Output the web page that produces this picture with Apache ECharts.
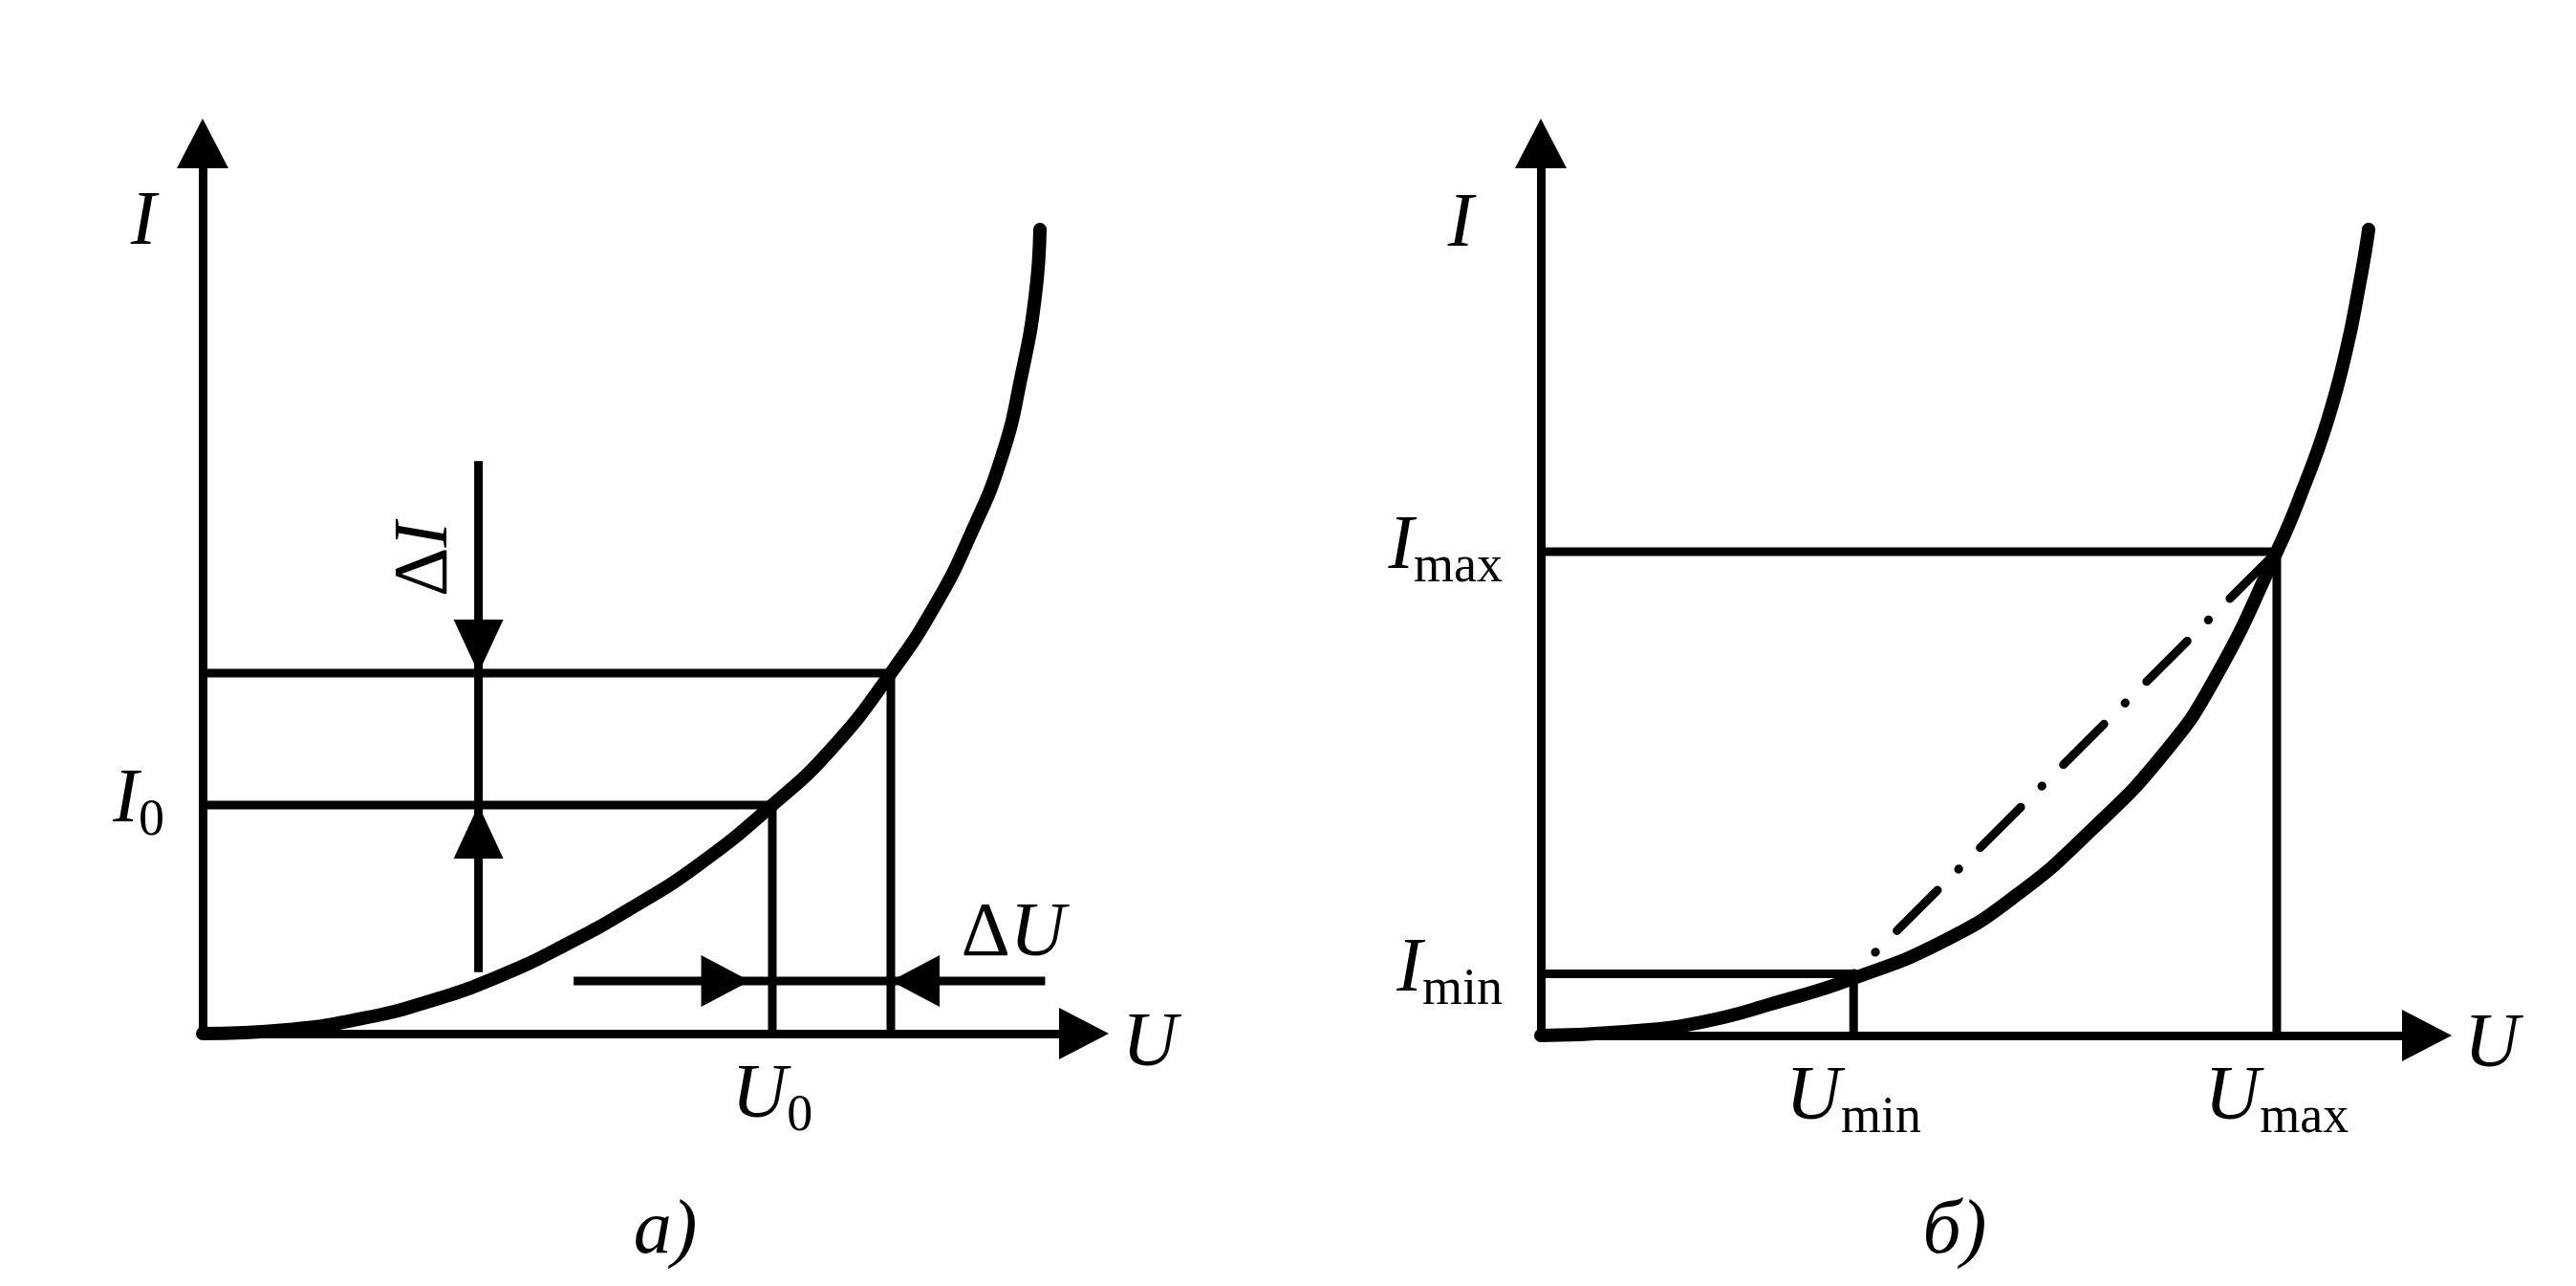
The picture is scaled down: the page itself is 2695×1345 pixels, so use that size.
<!DOCTYPE html>
<html><head><meta charset="utf-8">
<script src="https://cdn.jsdelivr.net/npm/echarts@6/dist/echarts.min.js"></script>
<style>html,body{margin:0;padding:0;background:#fff}#c{width:2695px;height:1345px}</style>
</head><body><div id="c"></div>
<script>
// ---------- Panel a) ----------
const curveA = [[0,0],[9.54,0.43],[18.22,1.72],[25.81,3.65],[33.41,6.34],[41.0,9.88],[48.59,14.07],[56.18,18.9],[64.64,25.67],[71.37,32.01],[78.09,40.49],[83.3,48.44],[87.09,55.96],[90.67,64.77],[92.95,74.11],[94.47,82.81],[95.01,90.33]];
const pointA0 = [64.64, 25.67];   // (U0, I0)
const pointA1 = [78.09, 40.49];   // upper working point
const deltaIx = 31.3, deltaIrange = [64.3, 6.9];
const deltaUy = 5.9, deltaUrange = [42.1, 95.6], deltaUtips = [62.1, 78.09];
const aXTicks = [64.64], aXTickLabels = [['U','0']];
const aYTicks = [25.67], aYTickLabels = [['I','0']];
// ---------- Panel б) ----------
const curveB = [[0,0],[9.49,0.43],[18.12,1.5],[26.75,3.75],[35.06,6.32],[45.52,10.61],[53.72,15.76],[62.03,22.94],[70.23,31.51],[76.05,39.98],[83.06,54.23],[86.08,61.41],[88.78,68.92],[90.94,76.96],[92.34,83.92],[93.1,88.21],[93.42,90.35]];
const pointBmin = [35.3, 6.9];    // (Umin, Imin)
const pointBmax = [83.06, 54.23]; // (Umax, Imax)
const bXTicks = [35.3, 83.06], bXTickLabels = [['U','min'],['U','max']];
const bYTicks = [6.9, 54.23], bYTickLabels = [['I','min'],['I','max']];

const SERIF = '"Liberation Serif", "DejaVu Serif", serif';
const rich = {
  m: {fontFamily: SERIF, fontStyle: 'italic', fontSize: 80, height: 80, lineHeight: 88, verticalAlign: 'top', color: '#000'},
  s: {fontFamily: SERIF, fontSize: 54, height: 54, lineHeight: 88, verticalAlign: 'bottom', color: '#000'}
};
function fmt(ticks, labels) {
  return function (v) {
    let i = ticks.findIndex(t => Math.abs(t - v) < 1e-6);
    if (i < 0) return '';
    return '{m|' + labels[i][0] + '}{s|' + labels[i][1] + '}';
  };
}
function axisCommon(gridIndex, ticks, labels, isX) {
  return {
    type: 'value', gridIndex: gridIndex, min: 0, max: 100,
    axisLine: {show: true, onZero: false, symbol: ['none', 'triangle'], symbolSize: [54, 52],
      lineStyle: {color: '#000', width: 9, cap: 'square'}},
    axisTick: {show: false},
    splitLine: {show: false},
    axisLabel: {show: true, customValues: ticks, formatter: fmt(ticks, labels), rich: rich,
      margin: isX ? 26 : 40, color: '#000'}
  };
}
const LW = 9;
function seg(xi, data, extra) {
  return Object.assign({type: 'line', xAxisIndex: xi, yAxisIndex: xi, data: data, showSymbol: false,
    symbol: 'none', silent: true, lineStyle: {color: '#000', width: LW, cap: 'butt'}}, extra || {});
}
function head(xi, pt, path, size, offset) {
  return {type: 'scatter', xAxisIndex: xi, yAxisIndex: xi, data: [pt], symbol: path, symbolSize: size,
    symbolOffset: offset, itemStyle: {color: '#000', opacity: 1}, silent: true, z: 5};
}
const DOWN = 'path://M0,0 L2,0 L1,2 Z', UP = 'path://M1,0 L2,2 L0,2 Z',
      RIGHT = 'path://M0,0 L2,1 L0,2 Z', LEFT = 'path://M2,0 L0,1 L2,2 Z';
const curveStyle = {smooth: 0.5, lineStyle: {color: '#000', width: 14, cap: 'round', join: 'round'}, z: 4};

const series = [
  // panel a
  seg(0, [[0, pointA0[1]], pointA0, [pointA0[0], 0]]),
  seg(0, [[0, pointA1[1]], pointA1, [pointA1[0], 0]]),
  seg(0, [[deltaIx, deltaIrange[0]], [deltaIx, deltaIrange[1]]]),
  seg(0, [[deltaUrange[0], deltaUy], [deltaUrange[1], deltaUy]]),
  head(0, [deltaIx, pointA1[1]], DOWN, [52, 56], [0, '-50%']),
  head(0, [deltaIx, pointA0[1]], UP, [52, 56], [0, '50%']),
  head(0, [deltaUtips[0], deltaUy], RIGHT, [51, 54], ['-50%', 0]),
  head(0, [deltaUtips[1], deltaUy], LEFT, [51, 54], ['50%', 0]),
  seg(0, curveA, curveStyle),
  // panel b
  seg(1, [[0, pointBmin[1]], pointBmin, [pointBmin[0], 0]]),
  seg(1, [[0, pointBmax[1]], pointBmax, [pointBmax[0], 0]]),
  seg(1, [pointBmin, pointBmax], {lineStyle: {color: '#000', width: 9, cap: 'round', type: [60, 31, 0.5, 31.5], dashOffset: 59}}),
  seg(1, curveB, curveStyle)
];

function txt(x, y, parts, rot) {
  let r = {};
  let s = '';
  parts.forEach((p, i) => {
    r['t' + i] = {fontFamily: SERIF, fontStyle: p[1] ? 'italic' : 'normal', fontSize: p[2] || 80, fill: '#000'};
    s += '{t' + i + '|' + p[0] + '}';
  });
  return {type: 'text', x: x, y: y, rotation: rot || 0, silent: true,
    style: {text: s, rich: r, textAlign: 'center', textVerticalAlign: 'middle', fill: '#000'}};
}

const chart = echarts.init(document.getElementById('c'), null, {renderer: 'canvas'});
chart.setOption({
  animation: false,
  backgroundColor: '#fff',
  grid: [
    {left: 212, top: 150, width: 922, height: 931},
    {left: 1612, top: 150, width: 927, height: 933}
  ],
  xAxis: [axisCommon(0, aXTicks, aXTickLabels, true), axisCommon(1, bXTicks, bXTickLabels, true)],
  yAxis: [axisCommon(0, aYTicks, aYTickLabels, false), axisCommon(1, bYTicks, bYTickLabels, false)],
  series: series,
  graphic: [
    txt(150, 234, [['I', true]]),
    txt(1528, 236, [['I', true]]),
    txt(1203, 1093, [['U', true]]),
    txt(2607, 1094, [['U', true]]),
    txt(1060, 978, [['Δ', false], ['U', true]]),
    txt(446, 585, [['Δ', false], ['I', true]], Math.PI / 2),
    txt(696, 1289, [['а)', true]]),
    txt(2045, 1289, [['б)', true]])
  ]
});
</script></body></html>
